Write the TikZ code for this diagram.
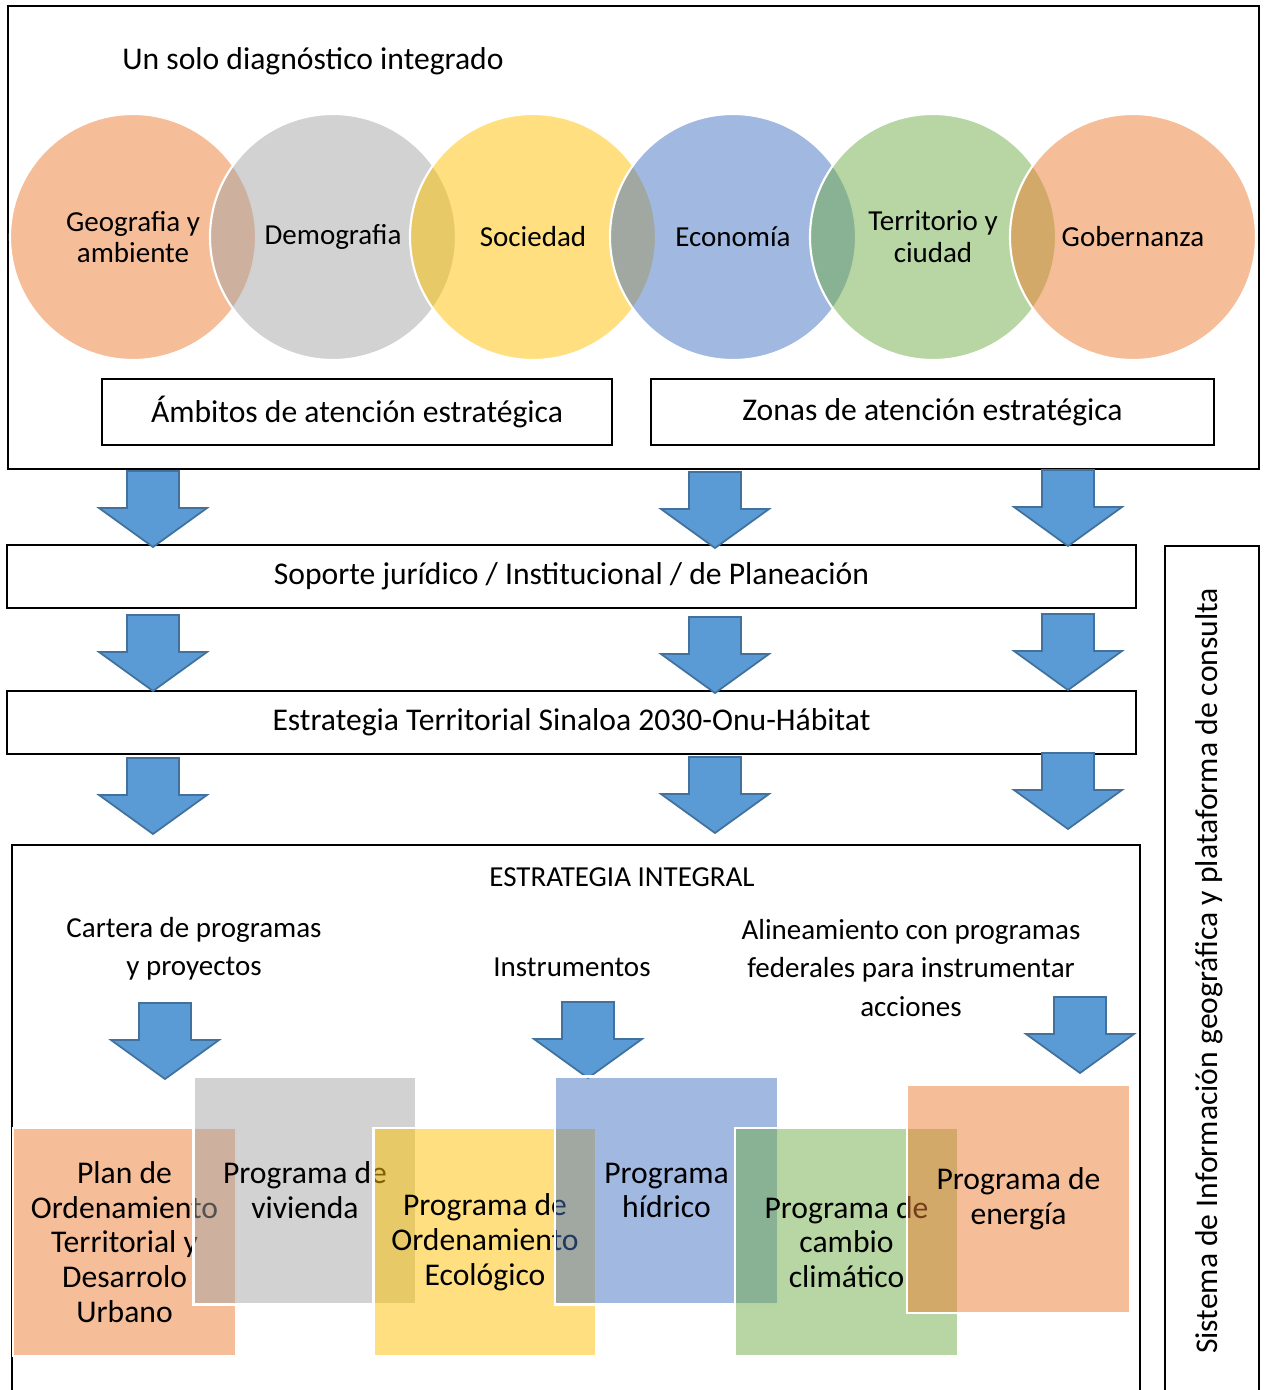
\documentclass[tikz,border=0pt]{standalone}
\usepackage{fontspec}
\setmainfont{Carlito}
\definecolor{cOrange}{HTML}{ED7D31}
\definecolor{cGray}{HTML}{A5A5A5}
\definecolor{cYellow}{HTML}{FFC000}
\definecolor{cBlue}{HTML}{4472C4}
\definecolor{cGreen}{HTML}{70AD47}
\definecolor{arrowfill}{HTML}{5B9BD5}
\definecolor{arrowline}{HTML}{41719C}
\begin{document}
\begin{tikzpicture}[x=0.02cm, y=-0.02cm,
  frame/.style={draw=black, line width=0.9pt, inner sep=0pt},
  labelbox/.style={frame, font=\fontsize{18}{20}\selectfont},
  venn/.style={circle, minimum size=246*0.02cm, inner sep=0pt, fill opacity=0.5, text opacity=1,
    draw=white, line width=1.2pt, align=center, font=\fontsize{16.5}{18.1}\selectfont},
  prog/.style={rectangle, minimum width=223*0.02cm, minimum height=228*0.02cm, inner sep=0pt,
    fill opacity=0.5, text opacity=1, draw=white, line width=1.2pt, align=center,
    font=\fontsize{18}{19.8}\selectfont},
  lbl/.style={align=center, inner sep=0pt, font=\fontsize{16.5}{21.8}\selectfont},
  blockarrow/.pic={\path[fill=arrowfill, draw=arrowline, line width=1pt, line join=miter]
    (-26,0) -- (26,0) -- (26,37) -- (54,37) -- (0,76) -- (-54,37) -- (-26,37) -- cycle;}
]
\useasboundingbox (0,0) rectangle (1266,1390);

% top frame
\node[frame, line width=1.1pt, minimum width=1251*0.02cm, minimum height=463*0.02cm] (topframe) at (633.5,237.5) {};
\node[anchor=west, inner sep=0pt, font=\fontsize{18}{20}\selectfont] (title) at (122,61) {Un solo diagnóstico integrado};

% venn circles
\node[venn, fill=cOrange] (c1) at (133,237) {Geografia y\\ambiente};
\node[venn, fill=cGray]   (c2) at (333,237) {Demografia};
\node[venn, fill=cYellow] (c3) at (533,237) {Sociedad};
\node[venn, fill=cBlue]   (c4) at (733,237) {Economía};
\node[venn, fill=cGreen]  (c5) at (933,237) {Territorio y\\ciudad};
\node[venn, fill=cOrange] (c6) at (1133,237) {Gobernanza};

\node[labelbox, minimum width=510*0.02cm, minimum height=66*0.02cm] (ambitos) at (357,412) {Ámbitos de atención estratégica};
\node[labelbox, minimum width=563*0.02cm, minimum height=66*0.02cm] (zonas) at (932.5,412) {Zonas de atención estratégica};

% middle bands
\node[labelbox, minimum width=1129*0.02cm, minimum height=63*0.02cm] (soporte) at (571.5,576.5) {Soporte jurídico / Institucional / de Planeación};
\node[labelbox, minimum width=1129*0.02cm, minimum height=63*0.02cm] (estrategia) at (571.5,722.5) {Estrategia Territorial Sinaloa 2030-Onu-Hábitat};

% arrows
\pic (a11) at (153,471) {blockarrow};
\pic (a12) at (715,472) {blockarrow};
\pic (a13) at (1068,470) {blockarrow};
\pic (a21) at (153,615) {blockarrow};
\pic (a22) at (715,617) {blockarrow};
\pic (a23) at (1068,614) {blockarrow};
\pic (a31) at (153,758) {blockarrow};
\pic (a32) at (715,757) {blockarrow};
\pic (a33) at (1068,753) {blockarrow};

% bottom frame (open at the bottom edge of the page)
\coordinate (bf1) at (12,1395);
\coordinate (bf2) at (12,845);
\coordinate (bf3) at (1140,845);
\coordinate (bf4) at (1140,1395);
\draw[line width=0.9pt] (bf1) -- (bf2) -- (bf3) -- (bf4);

% right vertical frame
\coordinate (rf1) at (1165,1395);
\coordinate (rf2) at (1165,546);
\coordinate (rf3) at (1259,546);
\coordinate (rf4) at (1259,1395);
\draw[line width=0.9pt] (rf1) -- (rf2) -- (rf3) -- (rf4);
\node[rotate=90, inner sep=0pt, font=\fontsize{18}{20}\selectfont] (sig) at (1209,971) {Sistema de Información geográfica y plataforma de consulta};

% bottom labels
\node[lbl] (integral) at (622,877) {ESTRATEGIA INTEGRAL};
\node[lbl] (cartera) at (194,949) {Cartera de programas\\y proyectos};
\node[lbl] (instr) at (572,967) {Instrumentos};
\node[lbl] (alin) at (911,968) {Alineamiento con programas\\federales para instrumentar\\acciones};

\pic (b1) at (165,1003) {blockarrow};
\pic (b2) at (588,1002) {blockarrow};
\pic (b3) at (1080,997) {blockarrow};

% programme rectangles
\node[prog, fill=cOrange] (p1) at (124.5,1242) {Plan de\\Ordenamiento\\Territorial y\\Desarrolo\\Urbano};
\node[prog, fill=cGray]   (p2) at (305,1190.5) {Programa de\\vivienda};
\node[prog, fill=cYellow] (p3) at (485,1242) {Programa de\\Ordenamiento\\Ecológico};
\node[prog, fill=cBlue]   (p4) at (666.5,1190.5) {Programa\\hídrico};
\node[prog, fill=cGreen]  (p5) at (846.5,1242) {Programa de\\cambio\\climático};
\node[prog, fill=cOrange] (p6) at (1018.5,1199) {Programa de\\energía};
\end{tikzpicture}
\end{document}
